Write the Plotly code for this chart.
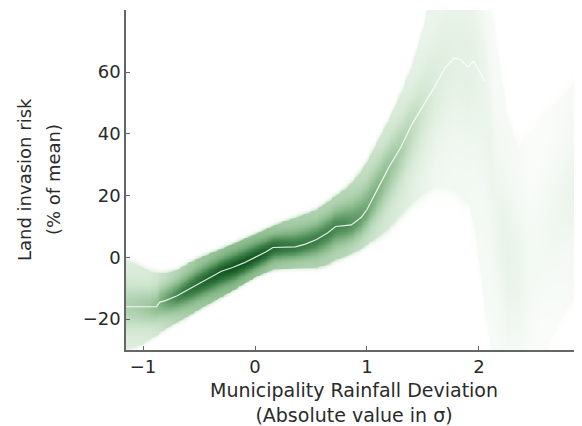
import numpy as np
import plotly.graph_objects as go

# ---- data ----
rain_dev = [-1.15, -1.05, -0.95, -0.88, -0.85, -0.8, -0.7, -0.6, -0.5, -0.4, -0.3, -0.2,
            -0.1, 0.0, 0.1, 0.16, 0.25, 0.36, 0.45, 0.55, 0.65, 0.72, 0.8, 0.86, 0.95,
            1.0, 1.1, 1.2, 1.3, 1.4, 1.5, 1.6, 1.7, 1.78, 1.84, 1.9, 1.95, 2.0, 2.05,
            2.15, 2.25, 2.35, 2.45, 2.55, 2.65, 2.75, 2.85, 2.95]
risk_mean = [-16.0, -16.0, -16.2, -16.0, -14.5, -14.0, -12.5, -10.5, -8.5, -6.5, -4.5, -3.3,
             -1.8, 0.0, 1.8, 3.2, 3.3, 3.4, 4.3, 5.8, 8.0, 10.0, 10.3, 10.5, 13.0,
             15.5, 22.5, 29.5, 35.5, 43.0, 49.0, 55.0, 61.5, 64.5, 64.0, 61.5, 63.5, 60.5, 57.0,
             None, None, None, None, None, None, None, None, None]
band_low = [-29.5, -28.5, -26.5, -25.0, -24.0, -22.8, -20.8, -18.8, -16.5, -14.5, -12.5, -10.5,
            -8.3, -6.2, -4.6, -3.8, -3.5, -3.3, -3.2, -3.1, -2.0, -0.5, 0.5, 1.5, 3.0,
            4.5, 7.0, 10.0, 14.0, 18.0, 21.0, 23.0, 23.0, 22.0, 20.0, 18.0, 12.0, 0.0, -15.0,
            -40.0, -45.0, -45.0, -45.0, -35.0, -25.0, -18.0, -12.0, -8.0]
band_high = [-1.0, -2.5, -4.5, -5.0, -5.0, -5.0, -4.2, -2.0, -0.2, 1.3, 2.8, 4.3,
             5.9, 7.5, 9.2, 10.2, 11.5, 12.8, 14.0, 15.5, 18.0, 20.0, 22.0, 24.0, 28.0,
             31.0, 38.0, 45.0, 53.0, 62.0, 74.0, 92.0, 105.0, 110.0, 110.0, 110.0, 110.0, 105.0, 95.0,
             70.0, 45.0, 35.0, 40.0, 45.0, 48.0, 52.0, 56.0, 60.0]
# darkness of the band core (1 = darkest green)
band_shade = [0.30, 0.32, 0.36, 0.42, 0.48, 0.55, 0.68, 0.78, 0.86, 0.92, 0.97, 1.0,
              1.0, 0.98, 0.92, 0.86, 0.80, 0.76, 0.74, 0.72, 0.70, 0.68, 0.66, 0.62, 0.56,
              0.52, 0.45, 0.38, 0.31, 0.24, 0.18, 0.13, 0.11, 0.10, 0.10, 0.10, 0.09, 0.08, 0.07,
              0.06, 0.08, 0.07, 0.04, 0.04, 0.05, 0.06, 0.07, 0.07]

x_ticks = [-1, 0, 1, 2]
x_tick_text = ["\u22121", "0", "1", "2"]
y_ticks = [-20, 0, 20, 40, 60]
y_tick_text = ["\u221220", "0", "20", "40", "60"]

X_RANGE = [-1.152, 2.92]
Y_RANGE = [-30.0, 80.1]

# ---- watercolor density built from the band arrays ----
kx = np.array(rain_dev, dtype=float)
lo = np.array(band_low, dtype=float)
hi = np.array(band_high, dtype=float)
mid = np.array([m if m is not None else (a + b) / 2 for m, a, b in zip(risk_mean, band_low, band_high)], dtype=float)
shade = np.array(band_shade, dtype=float)

gx = np.linspace(X_RANGE[0], X_RANGE[1], 520)
gy = np.linspace(Y_RANGE[0], Y_RANGE[1], 440)
c = np.interp(gx, kx, mid)
l = np.interp(gx, kx, lo)
h = np.interp(gx, kx, hi)
s = np.interp(gx, kx, shade)
Y = gy[:, None]
d = np.where(Y >= c[None, :], (Y - c[None, :]) / (h - c)[None, :], (c[None, :] - Y) / (c - l)[None, :])
inner = 0.4 + 0.6 * np.exp(-4.0 * d ** 2)
edge = (0.4 + 0.6 * np.exp(-4.0)) * np.exp(-18 * (d - 1))
prof = np.where(d <= 1, inner, edge)
z = prof * s[None, :]

colorscale = [
    [0.0, "rgb(255,255,255)"],
    [0.05, "rgb(240,247,240)"],
    [0.18, "rgb(208,230,208)"],
    [0.42, "rgb(140,188,142)"],
    [0.7, "rgb(64,130,74)"],
    [1.0, "rgb(18,84,32)"],
]

fig = go.Figure()
fig.add_trace(go.Heatmap(x=gx, y=gy, z=z, zmin=0, zmax=1, colorscale=colorscale,
                         showscale=False, zsmooth="best", hoverinfo="skip"))

line_x = [xv for xv, m in zip(rain_dev, risk_mean) if m is not None]
line_y = [m for m in risk_mean if m is not None]
fig.add_trace(go.Scatter(x=line_x, y=line_y, mode="lines",
                         line=dict(color="rgba(255,255,255,0.85)", width=1.2),
                         hoverinfo="skip", showlegend=False))

FONT = "DejaVu Sans"
TXT = "#2a2a2a"
axis_common = dict(showline=True, linecolor="#666666", linewidth=1.5, mirror=False,
                   ticks="inside", ticklen=4, tickcolor="#666666", tickwidth=1.2,
                   showgrid=False, zeroline=False, automargin=False,
                   tickfont=dict(family=FONT, size=18, color=TXT))

# the page body adds an 8px offset, so the figure is 8px smaller in each direction
W, H = 574, 418
L, T, B = 118, 2, 76
PW, PH = W - L, H - T - B

def px_x(page_x):
    return (page_x - 8 - L) / PW

def px_y(page_y):
    return (H - B - (page_y - 8)) / PH

fig.update_layout(
    width=W, height=H,
    margin=dict(l=L, r=0, t=T, b=B, pad=0),
    paper_bgcolor="white", plot_bgcolor="white",
    showlegend=False,
    xaxis=dict(range=X_RANGE, tickvals=x_ticks, ticktext=x_tick_text, **axis_common),
    yaxis=dict(range=Y_RANGE, tickvals=y_ticks, ticktext=y_tick_text, **axis_common),
    annotations=[
        dict(text="Municipality Rainfall Deviation<br>(Absolute value in \u03c3)",
             xref="paper", yref="paper", align="center", borderpad=0,
             x=px_x(354), y=px_y(403), xanchor="center", yanchor="middle", showarrow=False,
             font=dict(family=FONT, size=19, color=TXT)),
        dict(text="Land invasion risk", xref="paper", yref="paper", textangle=-90,
             x=px_x(24), y=px_y(180), xanchor="center", yanchor="middle", showarrow=False,
             font=dict(family=FONT, size=18, color=TXT)),
        dict(text="(% of mean)", xref="paper", yref="paper", textangle=-90,
             x=px_x(53), y=px_y(180), xanchor="center", yanchor="middle", showarrow=False,
             font=dict(family=FONT, size=18, color=TXT)),
    ],
)

fig.write_html("out.html")
